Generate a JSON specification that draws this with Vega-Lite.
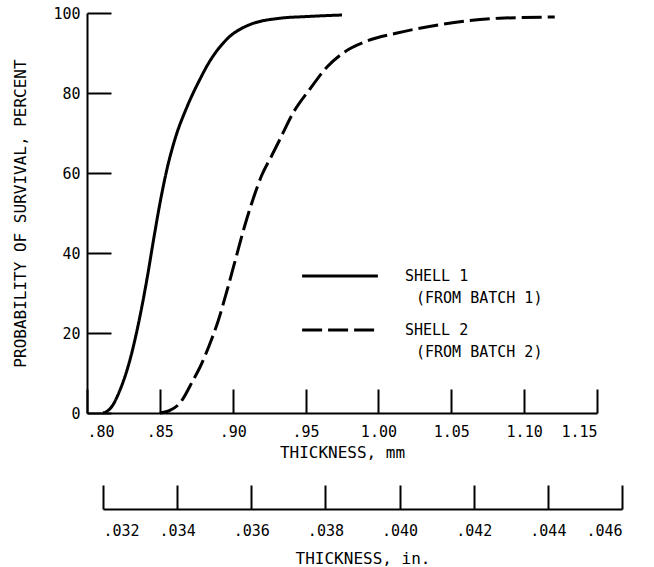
{
  "$schema": "https://vega.github.io/schema/vega-lite/v6.json",
  "autosize": "none",
  "width": 510,
  "height": 400,
  "padding": {"left": 87, "top": 13, "right": 57, "bottom": 154},
  "background": "white",
  "config": {
    "view": {"stroke": null},
    "font": "DejaVu Sans Mono",
    "axis": {
      "domainColor": "black",
      "domainWidth": 2,
      "tickColor": "black",
      "tickWidth": 2,
      "grid": false,
      "labelFont": "DejaVu Sans Mono",
      "labelFontSize": 15,
      "labelColor": "black",
      "titleFont": "DejaVu Sans Mono",
      "titleFontSize": 16,
      "titleFontWeight": "normal",
      "titleColor": "black"
    }
  },
  "layer": [
    {
      "data": {
        "values": [
          {"shell": "SHELL 1", "mm": 0.811, "pct": 0},
          {"shell": "SHELL 1", "mm": 0.814, "pct": 0.5},
          {"shell": "SHELL 1", "mm": 0.817, "pct": 1.6},
          {"shell": "SHELL 1", "mm": 0.8226, "pct": 5.7},
          {"shell": "SHELL 1", "mm": 0.8281, "pct": 11.5},
          {"shell": "SHELL 1", "mm": 0.8316, "pct": 16.3},
          {"shell": "SHELL 1", "mm": 0.835, "pct": 21.8},
          {"shell": "SHELL 1", "mm": 0.8384, "pct": 28},
          {"shell": "SHELL 1", "mm": 0.8415, "pct": 34.2},
          {"shell": "SHELL 1", "mm": 0.8453, "pct": 42.5},
          {"shell": "SHELL 1", "mm": 0.8501, "pct": 52.5},
          {"shell": "SHELL 1", "mm": 0.8549, "pct": 61},
          {"shell": "SHELL 1", "mm": 0.8604, "pct": 68.5},
          {"shell": "SHELL 1", "mm": 0.8686, "pct": 76.5},
          {"shell": "SHELL 1", "mm": 0.8776, "pct": 83.5},
          {"shell": "SHELL 1", "mm": 0.8824, "pct": 86.8},
          {"shell": "SHELL 1", "mm": 0.8961, "pct": 93.5},
          {"shell": "SHELL 1", "mm": 0.9098, "pct": 96.8},
          {"shell": "SHELL 1", "mm": 0.9325, "pct": 98.7},
          {"shell": "SHELL 1", "mm": 0.95, "pct": 99.1},
          {"shell": "SHELL 1", "mm": 0.975, "pct": 99.5},
          {"shell": "SHELL 2", "mm": 0.85, "pct": 0},
          {"shell": "SHELL 2", "mm": 0.856, "pct": 0.5},
          {"shell": "SHELL 2", "mm": 0.8638, "pct": 2.5},
          {"shell": "SHELL 2", "mm": 0.8728, "pct": 8.2},
          {"shell": "SHELL 2", "mm": 0.8776, "pct": 11.5},
          {"shell": "SHELL 2", "mm": 0.884, "pct": 17},
          {"shell": "SHELL 2", "mm": 0.89, "pct": 23},
          {"shell": "SHELL 2", "mm": 0.896, "pct": 30.5},
          {"shell": "SHELL 2", "mm": 0.902, "pct": 38.5},
          {"shell": "SHELL 2", "mm": 0.908, "pct": 46.5},
          {"shell": "SHELL 2", "mm": 0.914, "pct": 53.5},
          {"shell": "SHELL 2", "mm": 0.92, "pct": 59.5},
          {"shell": "SHELL 2", "mm": 0.927, "pct": 64.5},
          {"shell": "SHELL 2", "mm": 0.9325, "pct": 68.5},
          {"shell": "SHELL 2", "mm": 0.9414, "pct": 75},
          {"shell": "SHELL 2", "mm": 0.953, "pct": 81},
          {"shell": "SHELL 2", "mm": 0.9647, "pct": 86.5},
          {"shell": "SHELL 2", "mm": 0.9757, "pct": 90},
          {"shell": "SHELL 2", "mm": 0.9922, "pct": 93},
          {"shell": "SHELL 2", "mm": 1.0128, "pct": 95},
          {"shell": "SHELL 2", "mm": 1.041, "pct": 97},
          {"shell": "SHELL 2", "mm": 1.083, "pct": 98.7},
          {"shell": "SHELL 2", "mm": 1.121, "pct": 99}
        ]
      },
      "mark": {"type": "line", "color": "black", "strokeWidth": 3, "interpolate": "monotone"},
      "encoding": {
        "x": {
          "field": "mm",
          "type": "quantitative",
          "scale": {"domain": [0.8, 1.15], "nice": false, "zero": false},
          "axis": {
            "title": "THICKNESS, mm",
            "values": [0.8, 0.85, 0.9, 0.95, 1.0, 1.05, 1.1, 1.15],
            "labelExpr": "datum.value < 0.999 ? substring(format(datum.value, '.2f'), 1) : format(datum.value, '.2f')",
            "tickSize": -24,
            "labelPadding": 35,
            "titlePadding": 5
          }
        },
        "y": {
          "field": "pct",
          "type": "quantitative",
          "scale": {"domain": [0, 100], "nice": false},
          "axis": {
            "title": "PROBABILITY OF SURVIVAL, PERCENT",
            "values": [0, 20, 40, 60, 80, 100],
            "tickSize": -24,
            "labelPadding": 31,
            "titlePadding": 24
          }
        },
        "strokeDash": {
          "field": "shell",
          "type": "nominal",
          "scale": {"domain": ["SHELL 1", "SHELL 2"], "range": [[1, 0], [20, 6]]},
          "legend": {
            "orient": "none",
            "legendX": 236,
            "legendY": 246,
            "title": null,
            "padding": 0,
            "symbolType": "M-2.5,0H2.5",
            "symbolSize": 920,
            "symbolStrokeWidth": 3,
            "symbolStrokeColor": "black",
            "symbolFillColor": "transparent",
            "labelFont": "DejaVu Sans Mono",
            "labelFontSize": 15,
            "labelColor": "black",
            "labelOffset": 48,
            "labelLimit": 300,
            "labelBaseline": "middle",
            "rowPadding": 7,
            "labelExpr": "datum.label == 'SHELL 1' ? ['SHELL 1', '\u2800(FROM BATCH 1)'] : ['SHELL 2', '\u2800(FROM BATCH 2)']",
            "encode": {"labels": {"update": {"lineHeight": {"value": 22}}}}
          }
        }
      }
    },
    {
      "data": {"values": [{"inch": 0.032}, {"inch": 0.046}]},
      "mark": {"type": "point", "opacity": 0},
      "encoding": {
        "x": {
          "field": "inch",
          "type": "quantitative",
          "scale": {"domain": [0.032, 0.046], "range": [16, 535], "nice": false, "zero": false},
          "axis": {
            "orient": "bottom",
            "offset": 96,
            "title": "THICKNESS, in.",
            "values": [0.032, 0.034, 0.036, 0.038, 0.04, 0.042, 0.044, 0.046],
            "labelExpr": "substring(format(datum.value, '.3f'), 1)",
            "tickSize": -24,
            "labelPadding": 38,
            "titlePadding": 12
          }
        }
      }
    }
  ],
  "resolve": {"scale": {"x": "independent"}, "axis": {"x": "independent"}}
}
